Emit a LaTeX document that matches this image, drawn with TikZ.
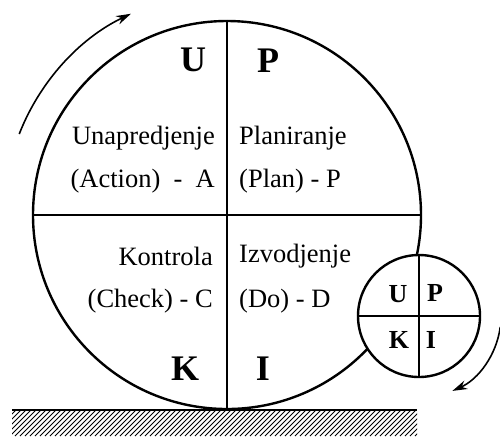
\documentclass[tikz,border=0pt]{standalone}
\usepackage{fontspec}
\setmainfont{Liberation Serif}
\usetikzlibrary{arrows.meta,calc}
\begin{document}
\begin{tikzpicture}[x=1pt,y=-1pt,
  ring/.style={circle,draw,line width=2.4pt,inner sep=0pt,fill=white},
  divider/.style={line width=1.4pt},
  lbl/.style={font=\fontsize{26.5}{28}\selectfont,inner sep=0pt},
  biglet/.style={font=\fontsize{36}{38}\selectfont\bfseries,inner sep=0pt},
  smalllet/.style={font=\fontsize{26}{28}\selectfont\bfseries,inner sep=0pt},
  turn/.style={line width=1.6pt,-{Stealth[length=15pt,width=9pt]}}]
\useasboundingbox (0,0) rectangle (500,440);
% ground
\begin{scope}
  \clip (12,410) rectangle (417,436);
  \foreach \i in {-30,-25,...,420} {
    \draw[line width=0.9pt] (\i,436) -- (\i+26,410);
  }
\end{scope}
\draw[line width=2pt] (12,410) -- (417,410);
% big circle
\node[ring,minimum size=388pt] (big) at (227,215) {};
\draw[divider] (big.north) -- (big.south);
\draw[divider] (big.west) -- (big.east);
% small circle
\node[ring,minimum size=122pt] (sm) at (419,316) {};
\draw[divider] (sm.north) -- (sm.south);
\draw[divider] (sm.west) -- (sm.east);
% big letters
\node[biglet] (bu) at (193,60) {U};
\node[biglet] (bp) at (268,61) {P};
\node[biglet] (bk) at (185,369) {K};
\node[biglet] (bi) at (263,369) {I};
% quadrant texts
\node[lbl,anchor=east] (t1) at (215,138) {Unapredjenje};
\node[lbl,anchor=east] (t2) at (215,181) {(Action)\ \ -\ \ A};
\node[lbl,anchor=west] (t3) at (239,138) {Planiranje};
\node[lbl,anchor=west] (t4) at (239,181) {(Plan) - P};
\node[lbl,anchor=east] (t5) at (213,256) {Kontrola};
\node[lbl,anchor=east] (t6) at (213,301) {(Check) - C};
\node[lbl,anchor=west] (t7) at (239,256) {Izvodjenje};
\node[lbl,anchor=west] (t8) at (239,301) {(Do) - D};
% small letters
\node[smalllet] (su) at (398,294) {U};
\node[smalllet] (sp) at (435,293) {P};
\node[smalllet] (sk) at (399,340) {K};
\node[smalllet] (si) at (431,340) {I};
% rotation arrows
\coordinate (a1) at ($(big.center)+(-158.7:223)$);
\coordinate (a2) at ($(sm.center)+(7.7:82)$);
\draw[turn] (a1) arc[start angle=-158.7,end angle=-115.5,radius=223];
\draw[turn] (a2) arc[start angle=7.7,end angle=66,radius=82];
\end{tikzpicture}
\end{document}
